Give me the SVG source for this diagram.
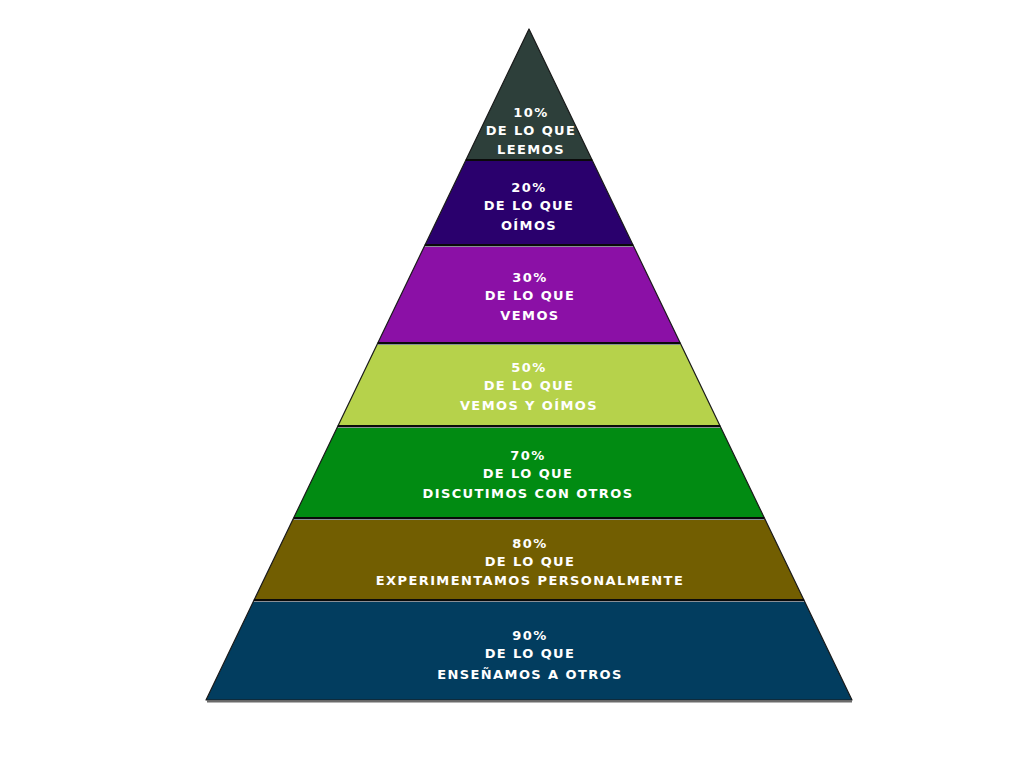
<svg xmlns="http://www.w3.org/2000/svg" width="1024" height="765" viewBox="0 0 1024 765">
<style>
.layer{stroke:#1a1a1a;stroke-width:1.2;stroke-linejoin:round}
.sep{stroke:#0a0a0a;stroke-width:2}
.hl{stroke:#8a8f96;stroke-width:1}
.t{font-family:"DejaVu Sans","Liberation Sans",sans-serif;font-weight:bold;font-size:13px;text-transform:uppercase;letter-spacing:1.4px;fill:#ffffff;text-anchor:middle}
</style>
<rect width="1024" height="765" fill="#ffffff"/>
<line x1="207" y1="701.5" x2="852" y2="701.5" stroke="#6b6b6b" stroke-width="2"/>
<g id="layer1">
<polygon class="layer" points="529,29 592.1,160 465.9,160" fill="#2d3f3a"/>
<text class="t" x="531" y="117">10%</text>
<text class="t" x="531" y="135">De lo que</text>
<text class="t" x="531" y="154">leemos</text>
</g>
<g id="layer2">
<polygon class="layer" points="465.9,160 592.1,160 633,245 425,245" fill="#2a006d"/>
<text class="t" x="529" y="192">20%</text>
<text class="t" x="529" y="210">De lo que</text>
<text class="t" x="529" y="230">oímos</text>
</g>
<g id="layer3">
<polygon class="layer" points="425,245 633,245 680.2,343 377.8,343" fill="#8b10a6"/>
<text class="t" x="530" y="282">30%</text>
<text class="t" x="530" y="300">De lo que</text>
<text class="t" x="530" y="320">vemos</text>
</g>
<g id="layer4">
<polygon class="layer" points="377.8,343 680.2,343 720.1,426 337.9,426" fill="#b6d24b"/>
<text class="t" x="529" y="372">50%</text>
<text class="t" x="529" y="390">De lo que</text>
<text class="t" x="529" y="410">vemos y oímos</text>
</g>
<g id="layer5">
<polygon class="layer" points="337.9,426 720.1,426 764.4,518 293.6,518" fill="#018b12"/>
<text class="t" x="528" y="460">70%</text>
<text class="t" x="528" y="478">De lo que</text>
<text class="t" x="528" y="498">discutimos con otros</text>
</g>
<g id="layer6">
<polygon class="layer" points="293.6,518 764.4,518 803.9,600 254.1,600" fill="#725e01"/>
<text class="t" x="530" y="548">80%</text>
<text class="t" x="530" y="566">De lo que</text>
<text class="t" x="530" y="585">experimentamos personalmente</text>
</g>
<g id="layer7">
<polygon class="layer" points="254.1,600 803.9,600 852,700 206,700" fill="#023d5f"/>
<text class="t" x="530" y="640">90%</text>
<text class="t" x="530" y="658">De lo que</text>
<text class="t" x="530" y="679">enseñamos a otros</text>
</g>
<g id="connectors">
<line class="sep" x1="466" y1="160" x2="592" y2="160"/>
<line class="sep" x1="425" y1="245" x2="633" y2="245"/>
<line class="sep" x1="378" y1="343" x2="680" y2="343"/>
<line class="sep" x1="338" y1="426" x2="720" y2="426"/>
<line class="sep" x1="294" y1="518" x2="764" y2="518"/>
<line class="sep" x1="254" y1="600" x2="804" y2="600"/>
<line class="hl" x1="425" y1="246.5" x2="633" y2="246.5"/>
<line class="hl" x1="378" y1="344.5" x2="680" y2="344.5"/>
<line class="hl" x1="338" y1="427.5" x2="720" y2="427.5"/>
<line class="hl" x1="294" y1="519.5" x2="764" y2="519.5"/>
<line class="hl" x1="254" y1="601.5" x2="804" y2="601.5"/>
</g>
</svg>
